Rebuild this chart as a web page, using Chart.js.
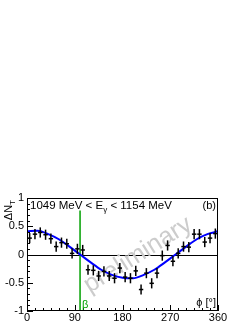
<!DOCTYPE html>
<html><head><meta charset="utf-8">
<script src="https://cdn.jsdelivr.net/npm/chart.js@4.4.0/dist/chart.umd.min.js"></script>
<style>html,body{margin:0;padding:0;background:#fff;overflow:hidden}#c{display:block}</style>
</head><body>
<canvas id="c" width="249" height="323"></canvas>
<script>
// ---- data ----
const phiBins = [5,15,25,35,45,55,65,75,85,95,105,115,125,135,145,155,165,175,
                 185,195,205,215,225,235,245,255,265,275,285,295,305,315,325,335,345,355];
const asymValues = [0.29,0.36,0.39,0.35,0.28,0.14,0.21,0.19,0.02,0.10,0.08,-0.27,-0.28,-0.38,-0.30,-0.38,-0.42,-0.24,
                    -0.40,-0.42,-0.29,-0.62,-0.33,-0.51,-0.33,-0.02,0.16,-0.12,0.02,0.14,0.13,0.36,0.36,0.22,0.29,0.37];
const asymErrors = [0.09,0.09,0.09,0.09,0.09,0.09,0.09,0.09,0.09,0.09,0.09,0.09,0.09,0.09,0.09,0.09,0.09,0.09,
                    0.09,0.09,0.09,0.09,0.09,0.09,0.09,0.09,0.09,0.09,0.09,0.09,0.09,0.09,0.09,0.09,0.09,0.09];
const fitPhi = [0,20,40,60,80,100,120,140,160,180,200,220,240,260,280,300,320,340,360];
const fitValues = [0.41,0.42,0.36,0.27,0.14,0.00,-0.14,-0.27,-0.36,-0.41,-0.42,-0.36,-0.27,-0.14,0.00,0.14,0.27,0.36,0.41];
const xTickValues = [0,90,180,270,360];
const yTickValues = [-1,-0.5,0,0.5,1];
const betaAngle = 100;
const betaLineTop = 0.78;
const energyLeft = "1049 MeV < E";
const energySub = "\u03b3";
const energyRight = " < 1154 MeV";
const panelLabel = "(b)";
const xTitle = "\u03d5 [\u00b0]";
const yTitleMain = "\u0394N";
const yTitleSub = "T";
const watermark = "preliminary";

const FONT = "'Liberation Sans', Arial, sans-serif";

function seg(ctx,x1,y1,x2,y2){ctx.beginPath();ctx.moveTo(x1,y1);ctx.lineTo(x2,y2);ctx.stroke();}

const decor = {
  id: 'decor',
  beforeDatasetsDraw(chart){
    const {ctx, chartArea:a, scales:{x,y}} = chart;
    ctx.save();
    // zero line
    ctx.strokeStyle = '#000'; ctx.lineWidth = 1;
    const y0 = Math.round(y.getPixelForValue(0)) + 0.5;
    seg(ctx, a.left, y0, a.right, y0);
    // beta line
    ctx.strokeStyle = '#00a000'; ctx.lineWidth = 1.5;
    const xb = x.getPixelForValue(betaAngle);
    seg(ctx, xb, y.getPixelForValue(-1), xb, y.getPixelForValue(betaLineTop));
    // watermark
    ctx.save();
    ctx.translate(138, 255);
    ctx.rotate(-32*Math.PI/180);
    ctx.font = "25px " + FONT;
    ctx.fillStyle = '#cccccc';
    ctx.textAlign = 'center'; ctx.textBaseline = 'middle';
    ctx.fillText(watermark, 0, 0);
    ctx.restore();
    ctx.restore();
  },
  afterDatasetsDraw(chart){
    const {ctx, chartArea:a, scales:{x,y}} = chart;
    ctx.save();
    // vertical error bars
    ctx.strokeStyle = '#000'; ctx.lineWidth = 1.5;
    phiBins.forEach((p,i)=>{
      const px = x.getPixelForValue(p);
      seg(ctx, px, y.getPixelForValue(asymValues[i]-asymErrors[i]), px, y.getPixelForValue(asymValues[i]+asymErrors[i]));
    });
    // frame
    ctx.lineWidth = 1; ctx.strokeStyle = '#000';
    ctx.strokeRect(a.left+0.5, a.top+0.5, a.right-a.left-1, a.bottom-a.top-1);
    // y ticks
    for (let k=-10;k<=10;k++){
      const v = k/10;
      const py = Math.round(y.getPixelForValue(v))+0.5;
      const len = (k%5===0) ? 6 : 3;
      seg(ctx, a.left, py, a.left+len, py);
    }
    // x ticks
    for (let p=0;p<=360;p+=15){
      const px = Math.round(x.getPixelForValue(p))+0.5;
      const len = (p%90===0) ? 6 : 3;
      seg(ctx, px, a.bottom, px, a.bottom-len);
    }
    // energy label
    ctx.fillStyle = '#000';
    ctx.textBaseline = 'alphabetic'; ctx.textAlign = 'left';
    ctx.font = "11.5px " + FONT;
    let tx = a.left + 3, ty = a.top + 11;
    ctx.fillText(energyLeft, tx, ty); tx += ctx.measureText(energyLeft).width;
    ctx.font = "8px " + FONT;
    ctx.fillText(energySub, tx, ty+3); tx += ctx.measureText(energySub).width;
    ctx.font = "11.5px " + FONT;
    ctx.fillText(energyRight, tx, ty);
    // panel label
    ctx.font = "11px " + FONT;
    ctx.textAlign = 'right';
    ctx.fillText(panelLabel, a.right - 2, ty);
    // x title
    ctx.fillText(xTitle, a.right - 2, a.bottom - 5);
    // beta text
    ctx.fillStyle = '#00a000'; ctx.textAlign = 'left';
    ctx.fillText("\u03b2", x.getPixelForValue(betaAngle) + 2, a.bottom - 3);
    // y title (rotated)
    ctx.fillStyle = '#000';
    ctx.save();
    ctx.translate(12, a.top);
    ctx.rotate(-Math.PI/2);
    ctx.textAlign = 'left';
    ctx.font = "8px " + FONT;
    const subW = ctx.measureText(yTitleSub).width;
    ctx.font = "11px " + FONT;
    const mainW = ctx.measureText(yTitleMain).width;
    const start = -(mainW + subW) - 2;
    ctx.fillText(yTitleMain, start, 0);
    ctx.font = "8px " + FONT;
    ctx.fillText(yTitleSub, start + mainW, 3);
    ctx.restore();
    ctx.restore();
  }
};

new Chart(document.getElementById('c'), {
  type: 'scatter',
  data: {
    datasets: [
      {
        label: 'fit',
        type: 'line',
        data: fitPhi.map((p,i)=>({x:p, y:fitValues[i]})),
        borderColor: '#0000ff',
        borderWidth: 2,
        pointRadius: 0,
        fill: false,
        cubicInterpolationMode: 'monotone',
        order: 2
      },
      {
        label: 'data',
        data: phiBins.map((p,i)=>({x:p, y:asymValues[i]})),
        pointStyle: 'line',
        pointRadius: 2.2,
        borderColor: '#000',
        backgroundColor: '#000',
        pointBorderWidth: 1.5,
        order: 1
      }
    ]
  },
  options: {
    responsive: false,
    animation: false,
    devicePixelRatio: 1,
    layout: { padding: { top: 198, right: 31, left: 0, bottom: 0 } },
    plugins: { legend: { display: false }, tooltip: { enabled: false } },
    scales: {
      x: {
        type: 'linear', min: 0, max: 360,
        afterBuildTicks: s => { s.ticks = xTickValues.map(v=>({value:v})); },
        afterFit: s => { s.height = 12; },
        grid: { display: false, drawTicks: false },
        border: { display: false },
        ticks: { color: '#000', font: { family: FONT, size: 11 }, padding: 0, maxRotation: 0, autoSkip: false,
                 callback: v => String(v) }
      },
      y: {
        type: 'linear', min: -1, max: 1,
        afterBuildTicks: s => { s.ticks = yTickValues.map(v=>({value:v})); },
        afterFit: s => { s.width = 27; },
        grid: { display: false, drawTicks: false },
        border: { display: false },
        ticks: { color: '#000', font: { family: FONT, size: 11 }, padding: 3,
                 callback: v => String(v) }
      }
    }
  },
  plugins: [decor]
});
</script>
</body></html>
